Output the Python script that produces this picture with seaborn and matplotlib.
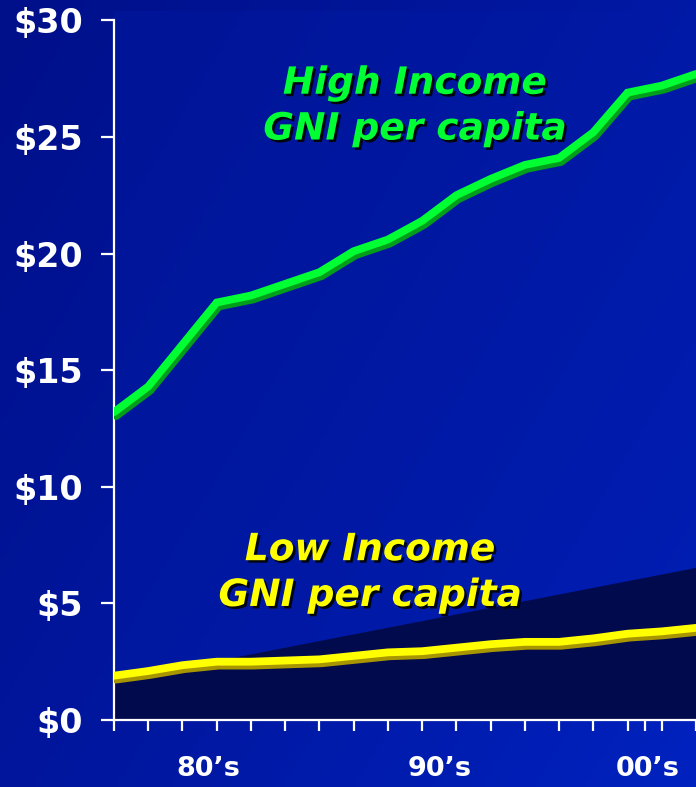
import matplotlib
matplotlib.use("Agg")
import matplotlib.pyplot as plt
import matplotlib.patheffects as pe
from matplotlib.colors import LinearSegmentedColormap
import numpy as np
import pandas as pd
import seaborn as sns

# ---------------------------------------------------------------------------
# data (thousands of US$, one point per tick slot)
slots = list(range(18))
high_income = [13.2, 14.3, 16.1, 17.9, 18.2, 18.7, 19.2, 20.1, 20.6,
               21.4, 22.5, 23.2, 23.8, 24.1, 25.2, 26.9, 27.2, 27.7]
low_income = [1.9, 2.1, 2.35, 2.5, 2.5, 2.55, 2.6, 2.75, 2.9,
              2.95, 3.1, 3.25, 3.35, 3.35, 3.5, 3.7, 3.8, 3.95]
y_ticks = [0, 5, 10, 15, 20, 25, 30]
y_labels = ["$0", "$5", "$10", "$15", "$20", "$25", "$30"]
extra_ticks = [15.5]
decade_pos = [2.75, 9.5, 15.6]
decade_labels = ["80’s", "90’s", "00’s"]

GREEN, GREEN_SHADOW = "#00ff33", "#009e1a"
YELLOW, YELLOW_SHADOW = "#ffff00", "#a89600"
TEXT_FONT = "DejaVu Sans"

sns.set_style("white")
plt.rcParams["font.family"] = [TEXT_FONT]

fig = plt.figure(figsize=(6.96, 7.87), dpi=100)

# slide background: dark navy top-left to brighter blue bottom-right
bg = fig.add_axes([0, 0, 1, 1], zorder=-2)
gx, gy = np.meshgrid(np.linspace(0, 1, 200), np.linspace(0, 1, 200))
grad = 0.6 * gx + 0.4 * gy
cmap = LinearSegmentedColormap.from_list("slide", ["#00108a", "#0017a0", "#0022bf"])
bg.imshow(grad, cmap=cmap, aspect="auto", extent=[0, 1, 0, 1], origin="upper")
bg.set_axis_off()

ax = fig.add_axes([114 / 696, 1 - 720 / 787, 582 / 696, 709 / 787])
ax.set_facecolor((0.0, 0.1, 0.65, 0.35))

df = pd.DataFrame({"slot": slots, "high": high_income, "low": low_income})

# dark wedge behind the low income line
ax.fill([0, 0, 1, 1], [0, 0.055, 0.2145, 0], transform=ax.transAxes,
        color="#000a4c", zorder=1, lw=0)

for col, c, sc in [("high", GREEN, GREEN_SHADOW), ("low", YELLOW, YELLOW_SHADOW)]:
    sns.lineplot(data=df, x="slot", y=col, ax=ax, color=c, lw=5.6, zorder=3,
                 solid_joinstyle="miter")
    ax.lines[-1].set_path_effects([
        pe.SimpleLineShadow(offset=(1.6, -2.8), shadow_color=sc, alpha=1, rho=1),
        pe.Normal(),
    ])

ax.set_xlim(0, 17)
ax.set_ylim(0, 30.4)
ax.set_xlabel("")
ax.set_ylabel("")

for side in ["top", "right"]:
    ax.spines[side].set_visible(False)
for side in ["left", "bottom"]:
    ax.spines[side].set_visible(True)
    ax.spines[side].set_color("white")
    ax.spines[side].set_linewidth(1.6)
ax.spines["left"].set_bounds(0, 30)

ax.set_yticks(y_ticks)
ax.set_yticklabels(y_labels, fontsize=24, fontweight="bold", color="white")
ax.set_xticks(slots + extra_ticks)
ax.set_xticklabels([])
ax.set_xticks(decade_pos, minor=True)
ax.set_xticklabels(decade_labels, minor=True, fontsize=19.5, fontweight="bold", color="white")
ax.tick_params(axis="y", length=9.5, width=1.6, color="white", pad=13, left=True)
ax.tick_params(axis="x", which="major", length=8, width=1.6, color="white", bottom=True)
ax.tick_params(axis="x", which="minor", length=0, pad=26, bottom=True)

text_fx = [pe.SimplePatchShadow(offset=(1.8, -1.8), shadow_rgbFace="#000510", alpha=1),
           pe.Normal()]
ax.text(8.79, 26.3, "High Income\nGNI per capita", color=GREEN, fontsize=27,
        fontweight="bold", fontstyle="oblique", ha="center", va="center",
        linespacing=1.35, zorder=4, path_effects=text_fx)
ax.text(7.48, 6.3, "Low Income\nGNI per capita", color=YELLOW, fontsize=27,
        fontweight="bold", fontstyle="oblique", ha="center", va="center",
        linespacing=1.35, zorder=4, path_effects=text_fx)

fig.savefig("out.png", dpi=100)
